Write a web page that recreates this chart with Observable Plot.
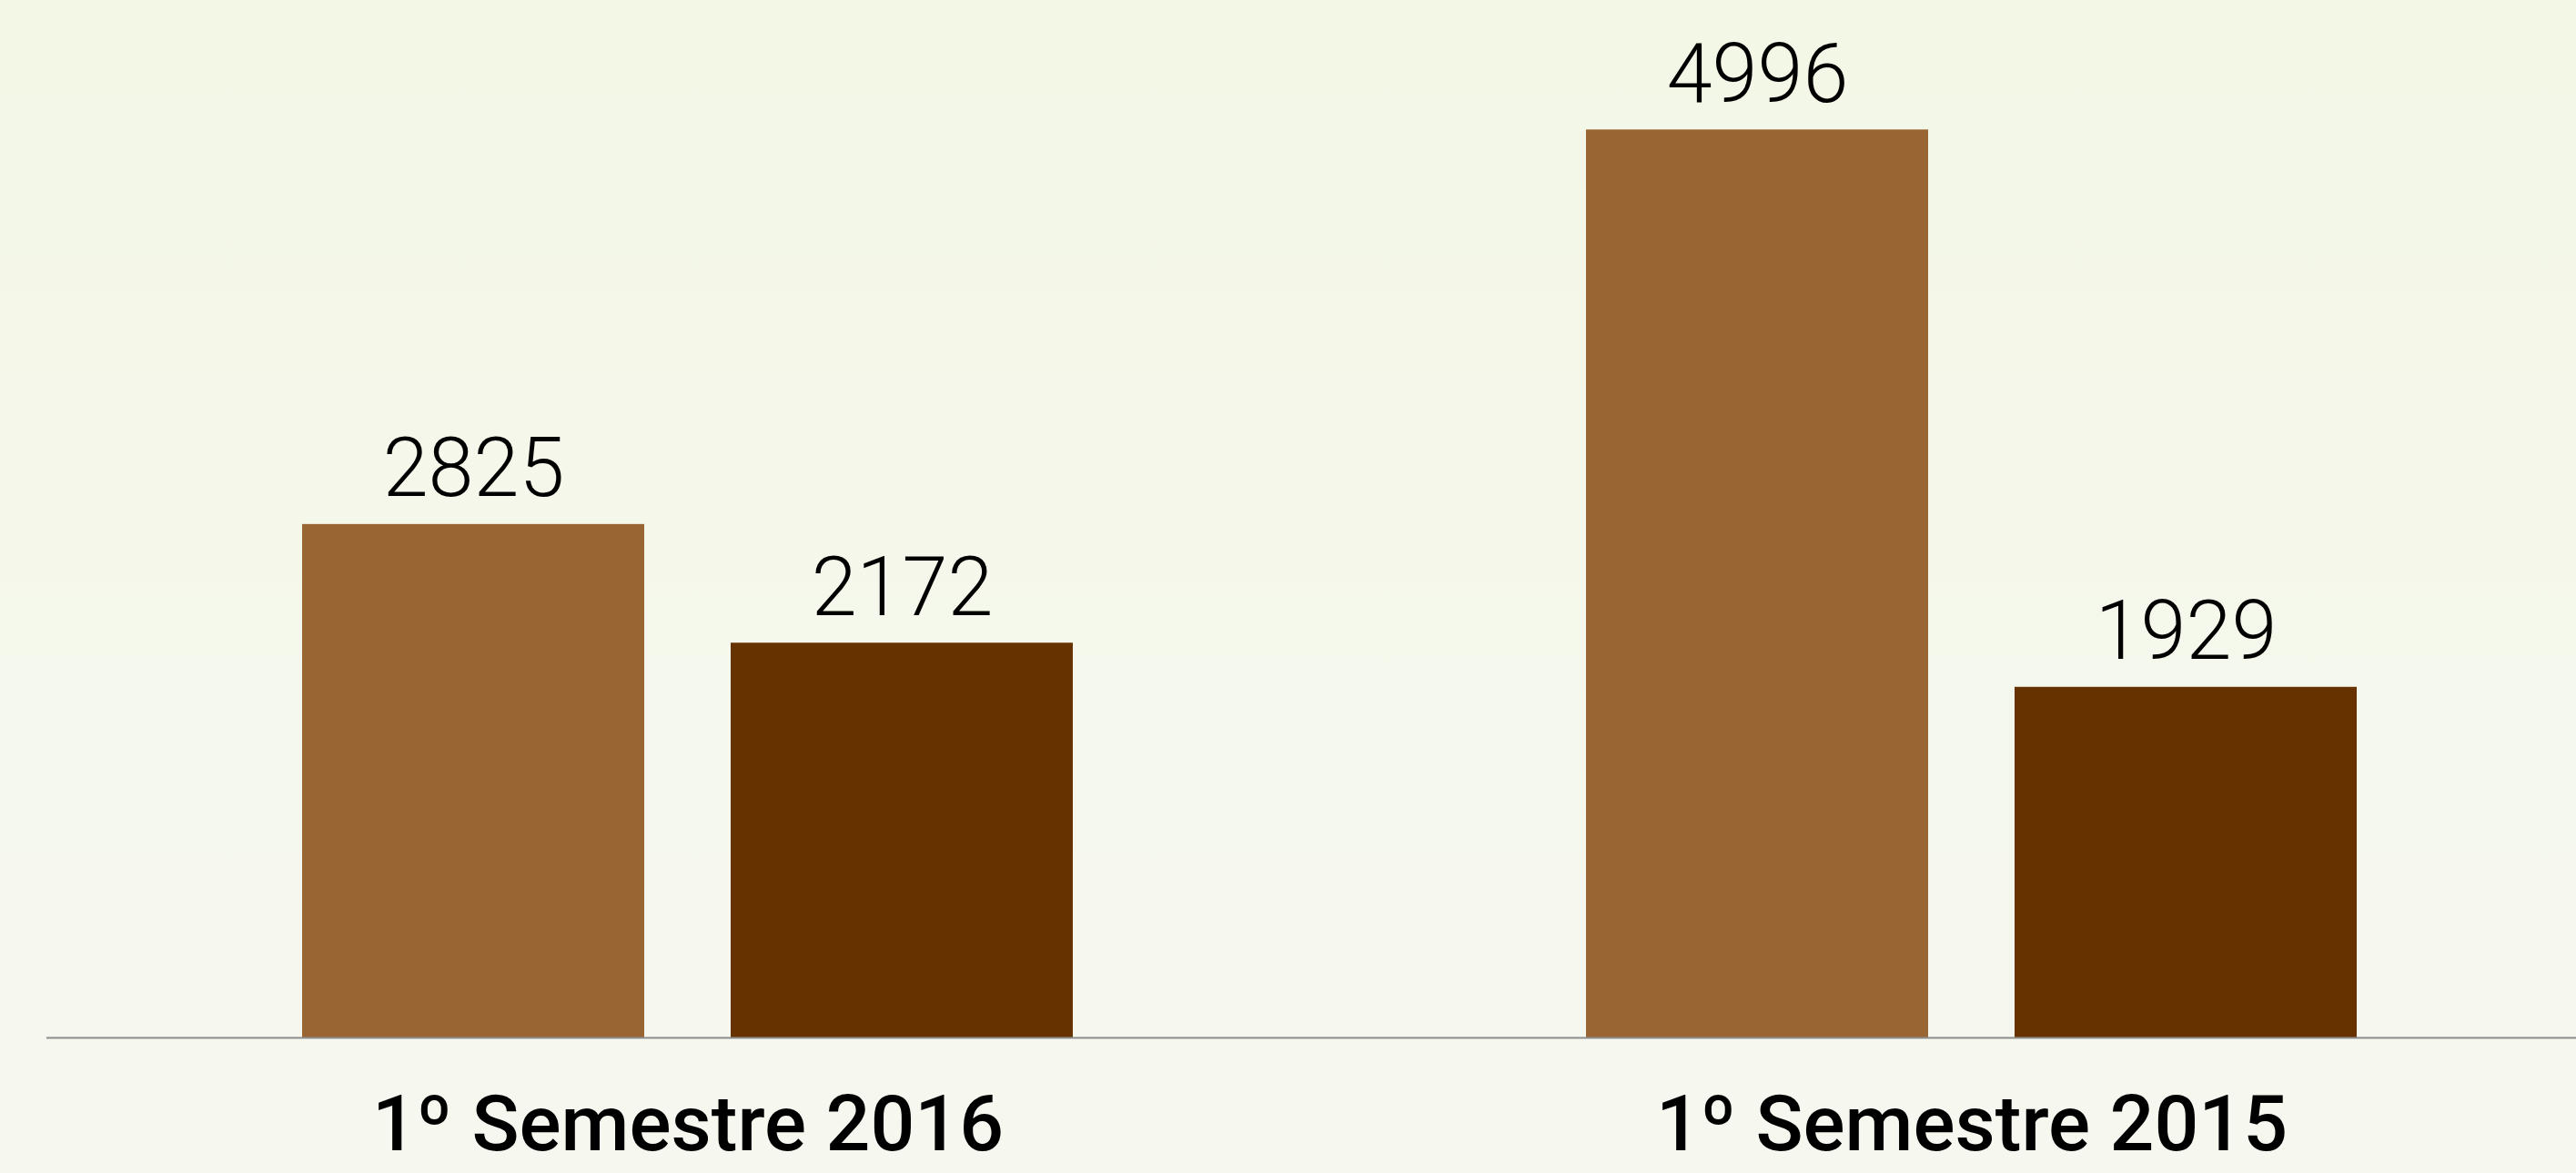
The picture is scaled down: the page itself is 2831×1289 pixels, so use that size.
<!DOCTYPE html>
<html><head><meta charset="utf-8">
<script src="https://cdn.jsdelivr.net/npm/d3@7"></script>
<script src="https://cdn.jsdelivr.net/npm/@observablehq/plot@0.6"></script>
<style>
html,body{margin:0;padding:0;}
body{background:linear-gradient(to bottom,#f3f7e6 0%,#f6f8f0 100%);width:2831px;height:1289px;overflow:hidden;}
</style></head><body><div id="chart"></div>
<script>
// Data
const categories = ["1º Semestre 2016", "1º Semestre 2015"];
const seriesA = [2825, 4996];
const seriesB = [2172, 1929];
const colorA = "#996633";
const colorB = "#663300";

const rowsA = categories.map((c, i) => ({category: c, value: seriesA[i]}));
const rowsB = categories.map((c, i) => ({category: c, value: seriesB[i]}));

const plot = Plot.plot({
  width: 2831,
  height: 1289,
  marginTop: 141.5,
  marginBottom: 149,
  marginLeft: 51,
  marginRight: 0,
  style: {background: "transparent", fontFamily: "Roboto, sans-serif", fontSize: "86px", fontWeight: 500, color: "#000"},
  x: {type: "band", domain: categories, paddingInner: 0.4, paddingOuter: 0.185, align: 0.538, tickSize: 0, tickPadding: 62, label: null},
  y: {domain: [0, 5000], axis: null},
  marks: [
    Plot.barY(rowsA, {x: "category", y: "value", fill: colorA, insetRight: 471}),
    Plot.barY(rowsB, {x: "category", y: "value", fill: colorB, insetLeft: 471}),
    Plot.ruleY([0], {stroke: "#8c8c8c", strokeWidth: 2}),
    Plot.text(rowsA, {x: "category", y: "value", text: d => String(d.value), dx: -235.5, dy: -31, lineAnchor: "bottom", fontSize: 90, fontWeight: 300, fill: "#000"}),
    Plot.text(rowsB, {x: "category", y: "value", text: d => String(d.value), dx: 235.5, dy: -31, lineAnchor: "bottom", fontSize: 90, fontWeight: 300, fill: "#000"})
  ]
});
document.getElementById("chart").appendChild(plot);
</script></body></html>
